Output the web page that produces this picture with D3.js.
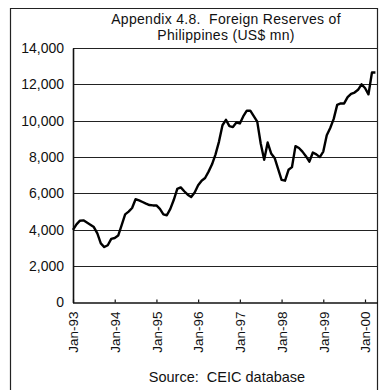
<!DOCTYPE html>
<html>
<head>
<meta charset="utf-8">
<script src="https://cdn.jsdelivr.net/npm/d3@7"></script>
<style>
  html, body { margin: 0; padding: 0; background: #fff; }
  svg { display: block; font-family: "Liberation Sans", Arial, sans-serif; }
  svg text { white-space: pre; }
</style>
</head>
<body>
<svg id="chart" width="379" height="390"></svg>
<script>
// Foreign reserves of the Philippines, monthly, US$ mn (Jan-93 .. Apr-00)
const reserves = [
  // 1993
  4000, 4300, 4500, 4520, 4400, 4280, 4150, 3800, 3250, 3050, 3150, 3500,
  // 1994
  3550, 3680, 4250, 4850, 5000, 5200, 5680, 5620, 5530, 5440, 5360, 5340,
  // 1995
  5340, 5150, 4850, 4800, 5150, 5650, 6250, 6330, 6120, 5930, 5800, 6050,
  // 1996
  6450, 6700, 6850, 7200, 7600, 8150, 8850, 9750, 10050, 9700, 9650, 9900,
  // 1997
  9850, 10250, 10550, 10550, 10250, 9950, 8750, 7850, 8800, 8200, 7950, 7350,
  // 1998
  6750, 6700, 7300, 7450, 8600, 8500, 8300, 8050, 7750, 8250, 8150, 8000,
  // 1999
  8300, 9200, 9600, 10100, 10870, 10950, 10950, 11300, 11480, 11550, 11700, 12000,
  // 2000
  11800, 11450, 12650, 12650
];
const yTicks = [0, 2000, 4000, 6000, 8000, 10000, 12000, 14000];
const xTickLabels = ["Jan-93", "Jan-94", "Jan-95", "Jan-96", "Jan-97", "Jan-98", "Jan-99", "Jan-00"];
const titleLines = ["Appendix 4.8.  Foreign Reserves of", "Philippines (US$ mn)"];
const sourceText = "Source:  CEIC database";

const svg = d3.select("#chart");
const plotLeft = 73, plotRight = 378, plotTop = 48, plotBottom = 302.5;

// month index -> x
const x = d3.scaleLinear().domain([0, 84]).range([plotLeft, 365]);
const y = d3.scaleLinear().domain([0, 14000]).range([plotBottom, plotTop]);

// outer frame
svg.append("path")
  .attr("d", `M10.5,392 V8.5 H377.5 V392`)
  .attr("fill", "none").attr("stroke", "#222").attr("stroke-width", 1.2);

// two-line title
svg.selectAll("text.title").data(titleLines).join("text")
  .attr("class", "title")
  .attr("x", 226).attr("y", (d, i) => 24 + i * 15.8)
  .attr("text-anchor", "middle")
  .attr("font-size", 14)
  .attr("letter-spacing", 0.3)
  .attr("fill", "#111")
  .text(d => d);

// horizontal gridlines
svg.append("g").selectAll("line").data(yTicks.filter(d => d > 0)).join("line")
  .attr("x1", plotLeft).attr("x2", plotRight)
  .attr("y1", d => Math.round(y(d)) + 0.5).attr("y2", d => Math.round(y(d)) + 0.5)
  .attr("stroke", "#222").attr("stroke-width", 1.1);

// y axis
const yAxis = d3.axisLeft(y).tickValues(yTicks).tickSize(0).tickPadding(9)
  .tickFormat(d3.format(","));
const gy = svg.append("g").attr("transform", `translate(${plotLeft},0)`).call(yAxis);
gy.select(".domain").attr("stroke", "#111").attr("stroke-width", 1.6);
gy.selectAll("text").attr("font-size", 14).attr("fill", "#111")
  .attr("font-family", "Liberation Sans, Arial, sans-serif");

// x axis with year ticks
const xAxis = d3.axisBottom(x)
  .tickValues(xTickLabels.map((d, i) => i * 12))
  .tickFormat((d, i) => xTickLabels[i])
  .tickSizeInner(-3).tickSizeOuter(0).tickPadding(8);
const gx = svg.append("g").attr("transform", `translate(0,${plotBottom})`).call(xAxis);
gx.select(".domain").attr("d", `M${plotLeft},0.5H${plotRight}`)
  .attr("stroke", "#111").attr("stroke-width", 1.6);
gx.selectAll(".tick line").attr("stroke", "#111").attr("stroke-width", 1.2);
gx.selectAll("text")
  .attr("font-size", 13.5).attr("fill", "#111")
  .attr("font-family", "Liberation Sans, Arial, sans-serif")
  .attr("text-anchor", "end")
  .attr("transform", "rotate(-90)")
  .attr("x", -9).attr("y", 0).attr("dy", "0.35em");

// reserves line
const line = d3.line()
  .x((d, i) => x(i))
  .y(d => y(d))
  .curve(d3.curveLinear);
svg.append("path")
  .datum(reserves)
  .attr("d", line)
  .attr("fill", "none")
  .attr("stroke", "#000")
  .attr("stroke-width", 2.4)
  .attr("stroke-linejoin", "round");

// source note
svg.append("text")
  .attr("x", 227).attr("y", 382)
  .attr("text-anchor", "middle")
  .attr("font-size", 14.5)
  .attr("fill", "#111")
  .text(sourceText);
</script>
</body>
</html>
